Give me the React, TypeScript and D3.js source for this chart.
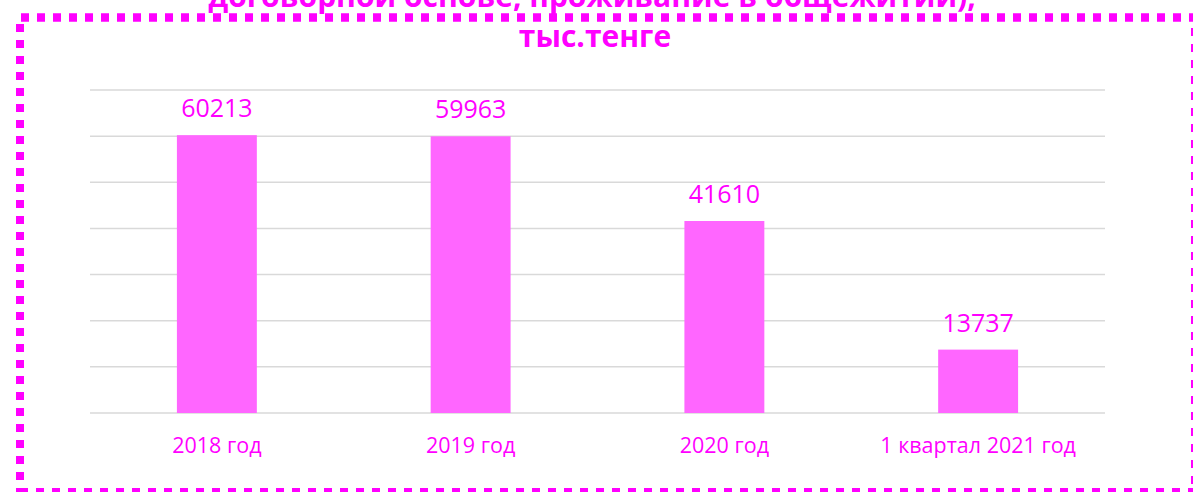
import React from "react";
import * as d3 from "d3";

const categories: string[] = ["2018 год", "2019 год", "2020 год", "1 квартал 2021 год"];
const values: number[] = [60213, 59963, 41610, 13737];
const yTickValues: number[] = [0, 10000, 20000, 30000, 40000, 50000, 60000, 70000];
const titleLines: string[] = ["договорной основе, проживание в общежитии),", "тыс.тенге"];

const W = 1193;
const H = 492;
const MAGENTA = "#FF00FF";
const BAR = "#FF66FF";
const GRID = "#D9D9D9";
const FONT = "'Open Sans', 'Noto Sans', sans-serif";

export default function App() {
  const x = d3.scaleBand<string>().domain(categories).range([90, 1105]).padding(0);
  const y = d3.scaleLinear().domain([0, 70000]).range([413, 90]);
  const barW = x.bandwidth() * 0.315;

  return (
    <div style={{ position: "absolute", left: 0, top: 0 }}>
      <svg width={W} height={H} style={{ display: "block" }}>
        <rect x={0} y={0} width={W} height={H} fill="#fff" />
        {/* title */}
        <text x={592} y={7} textAnchor="middle" fontFamily={FONT} fontWeight={700} fontSize={30} fill={MAGENTA}>
          {titleLines[0]}
        </text>
        <text x={595} y={47} textAnchor="middle" fontFamily={FONT} fontWeight={700} fontSize={30} fill={MAGENTA}>
          {titleLines[1]}
        </text>
        {/* gridlines */}
        {yTickValues.map((t) => (
          <line key={t} x1={90} x2={1105} y1={y(t)} y2={y(t)} stroke={GRID} strokeWidth={1.5} />
        ))}
        {/* bars */}
        {values.map((v, i) => {
          const cx = (x(categories[i]) as number) + x.bandwidth() / 2;
          return (
            <g key={categories[i]}>
              <rect x={cx - barW / 2} y={y(v)} width={barW} height={y(0) - y(v)} fill={BAR} />
              <text x={cx} y={y(v) - 18} textAnchor="middle" fontFamily={FONT} fontSize={25} fill={MAGENTA}>
                {v}
              </text>
              <text x={cx} y={453} textAnchor="middle" fontFamily={FONT} fontSize={21.5} fill={MAGENTA}>
                {categories[i]}
              </text>
            </g>
          );
        })}
        {/* dashed frame */}
        <line x1={21} x2={W} y1={17.5} y2={17.5} stroke={MAGENTA} strokeWidth={8.5} strokeDasharray="8 8" />
        <line x1={20} x2={20} y1={24} y2={H} stroke={MAGENTA} strokeWidth={8} strokeDasharray="8 8" />
        <line x1={1195} x2={1195} y1={28} y2={H} stroke={MAGENTA} strokeWidth={8} strokeDasharray="8 8" />
        <line x1={20} x2={W} y1={492} y2={492} stroke={MAGENTA} strokeWidth={8} strokeDasharray="8 8" />
      </svg>
    </div>
  );
}
